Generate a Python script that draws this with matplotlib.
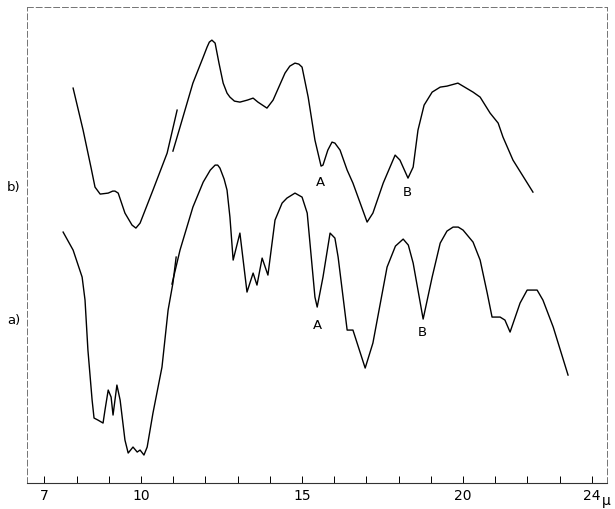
import matplotlib
matplotlib.use("Agg")
import matplotlib.pyplot as plt
import matplotlib.transforms as mtransforms

# wavelength in microns, trace height in arbitrary units
b1_wl = [7.89, 8.20, 8.45, 8.57, 8.73, 8.98, 9.12, 9.19, 9.29, 9.50, 9.72, 9.84, 9.97, 10.37, 10.81, 11.12]
b1_y = [395, 353, 315, 296, 289, 290, 292, 292, 290, 270, 258, 255, 260, 293, 330, 373]

b2_wl = [10.99, 11.21, 11.61, 11.93, 12.05, 12.12, 12.20, 12.30, 12.42, 12.55, 12.67, 12.76,
         12.90, 13.07, 13.30, 13.48, 13.63, 13.91, 14.10, 14.47, 14.62, 14.78, 14.90, 15.00,
         15.19, 15.40, 15.59, 15.65, 15.80, 15.93, 16.02, 16.18, 16.40, 16.58, 17.02, 17.20,
         17.52, 17.89, 18.04, 18.29, 18.45, 18.60, 18.79, 19.04, 19.29, 19.50, 19.84, 20.31,
         20.53, 20.84, 21.09, 21.24, 21.55, 22.17]
b2_y = [332, 356, 400, 426, 436, 441, 443, 440, 420, 400, 390, 386,
        382, 381, 383, 385, 381, 375, 383, 410, 417, 420, 419, 416,
        386, 343, 317, 318, 333, 341, 340, 333, 313, 300, 261, 270,
        300, 328, 323, 305, 316, 353, 378, 391, 396, 397, 400, 391,
        386, 370, 360, 346, 323, 291]

a1_wl = [7.58, 7.89, 8.17, 8.26, 8.35, 8.48, 8.54, 8.66, 8.82, 8.88, 8.98, 9.07, 9.13, 9.25,
         9.35, 9.50, 9.60, 9.75, 9.88, 9.97, 10.09, 10.19, 10.37, 10.65, 10.84, 10.99, 11.09]
a1_y = [251, 233, 206, 183, 133, 83, 65, 63, 60, 73, 93, 86, 68, 98,
        83, 43, 30, 36, 31, 33, 28, 36, 70, 116, 173, 200, 226]

a2_wl = [10.96, 11.21, 11.61, 11.93, 12.15, 12.30, 12.38, 12.45, 12.58, 12.67, 12.76, 12.86,
         13.07, 13.29, 13.48, 13.60, 13.76, 13.94, 14.16, 14.38, 14.53, 14.78, 15.00, 15.16,
         15.40, 15.47, 15.65, 15.87, 16.02, 16.12, 16.40, 16.58, 16.96, 17.20, 17.64, 17.90,
         18.14, 18.30, 18.45, 18.76, 19.04, 19.29, 19.50, 19.69, 19.85, 20.00, 20.31, 20.53,
         20.75, 20.90, 21.15, 21.30, 21.46, 21.77, 21.99, 22.30, 22.48, 22.80, 23.26]
a2_y = [199, 233, 276, 301, 313, 318, 318, 315, 304, 293, 266, 223,
        250, 191, 210, 198, 225, 208, 263, 280, 285, 290, 286, 270,
        186, 176, 206, 250, 245, 226, 153, 153, 115, 140, 216, 237,
        244, 238, 220, 164, 206, 240, 252, 256, 256, 253, 241, 223,
        190, 166, 166, 163, 151, 180, 193, 193, 183, 156, 108]

tick_major = [7, 10, 15, 20, 24]
tick_labels = ["7", "10", "15", "20", "24"]
tick_minor = list(range(7, 25))

# band labels: (text, wavelength, height)
marks = [("A", 15.56, 301), ("B", 18.27, 291), ("A", 15.47, 158), ("B", 18.73, 151)]
trace_names = [("b)", 296), ("a)", 163)]

fig = plt.figure(figsize=(6.15, 5.09), dpi=100)
ax = fig.add_axes([0.044, 0.051, 0.943, 0.935])

for xs, ys in [(b1_wl, b1_y), (b2_wl, b2_y), (a1_wl, a1_y), (a2_wl, a2_y)]:
    ax.plot(xs, ys, color="black", lw=1.0, solid_joinstyle="round")

for t, x, y in marks:
    ax.text(x, y, t, ha="center", va="center", fontsize=9.5)

trans = mtransforms.blended_transform_factory(fig.transFigure, ax.transData)
for t, y in trace_names:
    fig.text(0.022, y, t, ha="center", va="center", fontsize=9.5, transform=trans)

ax.set_xlim(6.46, 24.47)
ax.set_ylim(0, 476)
ax.set_xticks(tick_major)
ax.set_xticklabels(tick_labels, fontsize=10)
ax.set_xticks(tick_minor, minor=True)
ax.tick_params(axis="x", which="both", direction="in", length=5, width=0.7, pad=4)
ax.set_yticks([])

tx = mtransforms.blended_transform_factory(ax.transData, ax.transAxes)
ax.text(24.3, -0.022, "μ", transform=tx, ha="left", va="top", fontsize=10)

for side in ["top", "left", "right"]:
    ax.spines[side].set_linestyle((0, (6, 3)))
    ax.spines[side].set_color("0.45")
    ax.spines[side].set_linewidth(0.7)
ax.spines["bottom"].set_color("0.2")
ax.spines["bottom"].set_linewidth(0.8)

fig.savefig("out.png", dpi=100)
